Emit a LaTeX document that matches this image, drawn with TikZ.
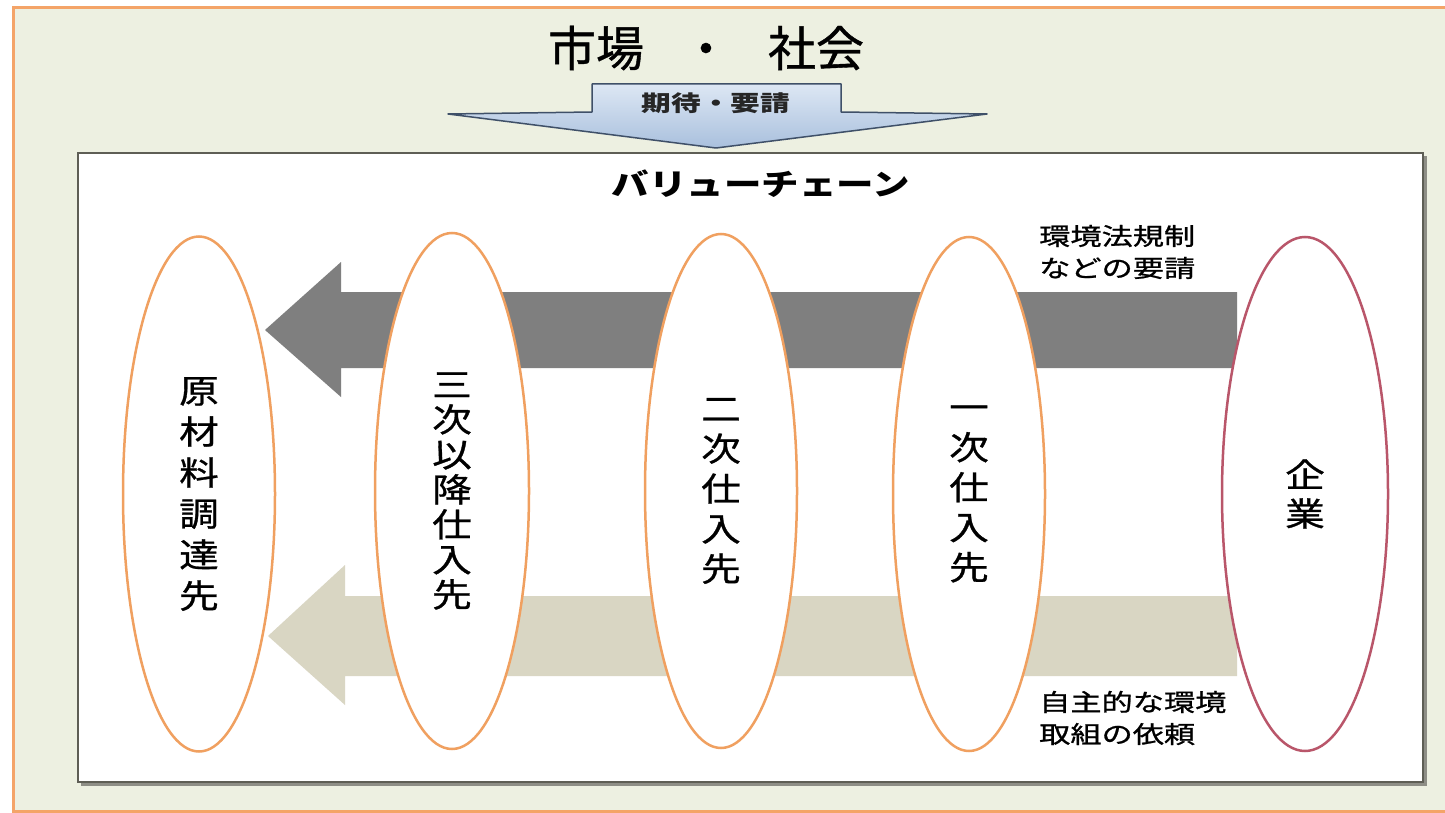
\documentclass[tikz,border=0pt]{standalone}
\usepackage{fontspec}
\newfontfamily\jp{Noto Sans CJK JP}
\newfontfamily\jpm[FakeBold=0.8]{Noto Sans CJK JP}
\usetikzlibrary{shapes.geometric}
\definecolor{bgc}{HTML}{EDF0E1}
\definecolor{frameor}{HTML}{F4A468}
\definecolor{ellor}{HTML}{F0A060}
\definecolor{ellred}{HTML}{B9566A}
\definecolor{boxline}{HTML}{5E5E55}
\definecolor{boxshadow}{HTML}{8E8E86}
\definecolor{arrgray}{HTML}{7F7F7F}
\definecolor{arrtan}{HTML}{D9D6C3}
\definecolor{bluetop}{HTML}{DDE7F4}
\definecolor{bluebot}{HTML}{A9C0DD}
\definecolor{blueedge}{HTML}{3F5068}
\newcommand{\hx}[2][1.2]{\scalebox{#1}[1]{#2}}
\newcommand{\vstack}[2]{\scalebox{1.2}[1]{\vbox{\fontsize{33}{#1}\selectfont\lineskiplimit=-\maxdimen\halign{\hfil##\hfil\cr #2\crcr}}}}
\begin{document}
\begin{tikzpicture}[x=1pt,y=-1pt,
  ell/.style={ellipse, draw=ellor, line width=2.5pt, fill=white, inner sep=0pt, font=\jpm},
  lab/.style={font=\jpm\fontsize{24}{32}\selectfont, align=left, inner sep=0pt, anchor=west},
  garrow/.style={fill=arrgray},
  tarrow/.style={fill=arrtan}]
\useasboundingbox (0,0) rectangle (1445,813);
\fill[white] (0,0) rectangle (1445,813);
\draw[frameor, line width=3pt, fill=bgc] (13,8) rectangle (1470,811);
% inner box
\fill[boxshadow] (81,781) rectangle (1427,786);
\fill[boxshadow] (1422,156) rectangle (1427,786);
\draw[boxline, line width=2.5pt, fill=white] (78,153) rectangle (1423,782);
% title
\node[font=\jpm\fontsize{48}{48}\selectfont, inner sep=0pt] (title) at (706,48) {市場\hspace{38pt}・\hspace{38pt}社会};
% blue arrow
\path[top color=bluetop, bottom color=bluebot, draw=blueedge, line width=1.5pt, line join=round]
  (592,84) -- (841,84) -- (841,112) -- (987,114) -- (716,148) -- (448,114) -- (592,112) -- cycle;
\node[font=\jp\bfseries\fontsize{22}{22}\selectfont, text=black!85, inner sep=0pt] (req) at (716,103) {\hx[1.35]{期待・要請}};
% value chain heading
\node[font=\jp\bfseries\fontsize{30}{30}\selectfont, inner sep=0pt] (vc) at (761,184) {\hx[1.25]{バリューチェーン}};
% block arrows
\path[garrow] (1237,292) -- (341,292) -- (341,262) -- (265,330) -- (341,397) -- (341,368) -- (1237,368) -- cycle;
\path[tarrow] (1237,596) -- (345,596) -- (345,565) -- (268,636) -- (345,705) -- (345,676) -- (1237,676) -- cycle;
% ellipses
\node[ell, minimum width=152, minimum height=515] (e1) at (199,494) {\vstack{41}{原\cr 材\cr 料\cr 調\cr 達\cr 先}};
\node[ell, minimum width=154, minimum height=516] (e2) at (452,491) {\vstack{35}{三\cr 次\cr 以\cr 降\cr 仕\cr 入\cr 先}};
\node[ell, minimum width=152, minimum height=514] (e3) at (721,491) {\vstack{40}{二\cr 次\cr 仕\cr 入\cr 先}};
\node[ell, minimum width=152, minimum height=514] (e4) at (969,494) {\vstack{40}{一\cr 次\cr 仕\cr 入\cr 先}};
\node[ell, draw=ellred, minimum width=166, minimum height=514] (e5) at (1305,494) {\vstack{39}{企\cr 業}};
% labels
\node[lab] (l1) at (1039,252) {\hx[1.3]{環境法規制}\\\hx[1.3]{などの要請}};
\node[lab] (l2) at (1039,718) {\hx[1.3]{自主的な環境}\\\hx[1.3]{取組の依頼}};
\end{tikzpicture}
\end{document}
